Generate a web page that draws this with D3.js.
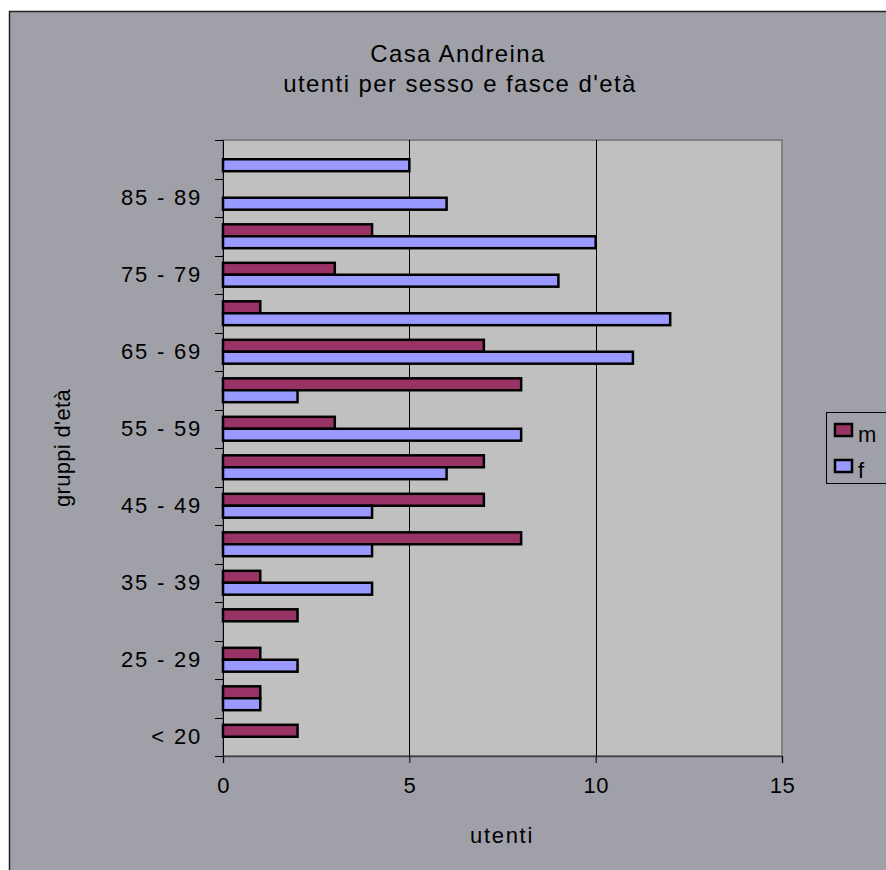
<!DOCTYPE html>
<html>
<head>
<meta charset="utf-8">
<script src="https://cdn.jsdelivr.net/npm/d3@7"></script>
<style>
    html, body { margin: 0; padding: 0; overflow: hidden; background: #fff; }
    svg { display: block; }
    svg text { font-family: "Liberation Sans", Arial, sans-serif; fill: #000; }
</style>
</head>
<body>
<svg id="chart" width="886" height="870"></svg>
<script>
    'use strict';

    // age groups, bottom to top
    var categories = ['< 20', '20 - 24', '25 - 29', '30 - 34', '35 - 39', '40 - 44',
        '45 - 49', '50 - 54', '55 - 59', '60 - 64', '65 - 69', '70 - 74',
        '75 - 79', '80 - 84', '85 - 89', '90 - 94'];
    var maschi = [2, 1, 1, 2, 1, 8, 7, 7, 3, 8, 7, 1, 3, 4, 0, 0];
    var femmine = [0, 1, 2, 0, 4, 4, 4, 6, 8, 2, 11, 12, 9, 10, 6, 5];
    var xTicks = [0, 5, 10, 15];
    var series = [
        {key: 'm', values: maschi, color: '#993366'},
        {key: 'f', values: femmine, color: '#9999ff'}
    ];

    var svg = d3.select('#chart');
    var plot = {left: 223, right: 782, top: 140, bottom: 756};
    var labelStyle = {size: '22px', spacing: '1.8px'};

    // chart frame (runs off the right and bottom edges)
    svg.append('rect')
        .attr('x', 9.5).attr('y', 11.5)
        .attr('width', 920).attr('height', 920)
        .attr('fill', '#a0a0a8')
        .attr('stroke', '#222').attr('stroke-width', 1.5);

    var x = d3.scaleLinear().domain([0, 15]).range([plot.left, plot.right]);
    var y = d3.scaleBand()
        .domain(categories.slice().reverse())
        .range([plot.top, plot.bottom])
        .paddingInner(0.38)
        .paddingOuter(0.19);
    var ySub = d3.scaleBand().domain(['m', 'f']).range([0, y.bandwidth()]);

    // plot area
    svg.append('rect')
        .attr('x', plot.left).attr('y', plot.top)
        .attr('width', plot.right - plot.left).attr('height', plot.bottom - plot.top)
        .attr('fill', '#c0c0c0')
        .attr('stroke', '#808080').attr('stroke-width', 2);

    // gridlines
    svg.append('g')
        .selectAll('line')
        .data(xTicks.slice(1, -1))
        .join('line')
        .attr('x1', d => Math.round(x(d)) + 0.5).attr('x2', d => Math.round(x(d)) + 0.5)
        .attr('y1', plot.top).attr('y2', plot.bottom)
        .attr('stroke', '#000');

    // bars
    series.forEach(s => {
        svg.append('g')
            .selectAll('rect')
            .data(categories.map((c, i) => ({cat: c, v: s.values[i]})).filter(d => d.v > 0))
            .join('rect')
            .attr('x', x(0))
            .attr('y', d => y(d.cat) + ySub(s.key))
            .attr('width', d => x(d.v) - x(0))
            .attr('height', ySub.bandwidth())
            .attr('fill', s.color)
            .attr('stroke', '#000')
            .attr('stroke-width', 2.5);
    });

    // x axis
    var xAxis = svg.append('g')
        .attr('transform', `translate(0, ${plot.bottom})`)
        .call(d3.axisBottom(x).tickValues(xTicks).tickSize(7).tickPadding(22));
    xAxis.select('.domain').attr('stroke', '#404040').attr('stroke-width', 1.5);
    xAxis.selectAll('.tick line').attr('stroke', '#000');
    xAxis.selectAll('text')
        .attr('dy', '0.35em')
        .style('font-size', labelStyle.size)
        .style('letter-spacing', '0.5px');

    // y axis: ticks between groups, label every second group
    var yAxis = svg.append('g')
        .attr('transform', `translate(${plot.left}, 0)`);
    var bounds = d3.range(categories.length + 1).map(i => plot.top + i * y.step());
    yAxis.append('line')
        .attr('x1', 0.5).attr('x2', 0.5)
        .attr('y1', plot.top).attr('y2', plot.bottom + 7)
        .attr('stroke', '#000');
    yAxis.selectAll('line.tick')
        .data(bounds)
        .join('line')
        .attr('class', 'tick')
        .attr('x1', -8).attr('x2', 0)
        .attr('y1', d => Math.round(d) + 0.5).attr('y2', d => Math.round(d) + 0.5)
        .attr('stroke', '#000');
    yAxis.selectAll('text')
        .data(categories.filter((c, i) => i % 2 === 0))
        .join('text')
        .attr('x', -21)
        .attr('y', d => y(d) + y.bandwidth() / 2)
        .attr('dy', '0.35em')
        .attr('text-anchor', 'end')
        .style('font-size', labelStyle.size)
        .style('letter-spacing', labelStyle.spacing)
        .text(d => d);

    // titles
    var title = svg.append('text')
        .attr('text-anchor', 'middle')
        .style('font-size', '24px').style('letter-spacing', '1.4px');
    title.append('tspan').attr('x', 458).attr('y', 62).text('Casa Andreina');
    title.append('tspan').attr('x', 460).attr('y', 92).text('utenti per sesso e fasce d\'età');

    svg.append('text')
        .attr('x', 502).attr('y', 843)
        .attr('text-anchor', 'middle')
        .style('font-size', labelStyle.size).style('letter-spacing', '1.7px')
        .text('utenti');

    svg.append('text')
        .attr('transform', 'translate(70, 448) rotate(-90)')
        .attr('text-anchor', 'middle')
        .style('font-size', labelStyle.size).style('letter-spacing', '0.3px')
        .text('gruppi d\'età');

    // legend
    var legend = svg.append('g').attr('transform', 'translate(826, 412)');
    legend.append('rect')
        .attr('x', 0.5).attr('y', 0.5)
        .attr('width', 80).attr('height', 71)
        .attr('fill', 'none')
        .attr('stroke', '#000');
    series.forEach((s, i) => {
        var row = legend.append('g').attr('transform', `translate(9, ${12 + i * 36})`);
        row.append('rect')
            .attr('width', 17).attr('height', 12)
            .attr('fill', s.color)
            .attr('stroke', '#000').attr('stroke-width', 2.5);
        row.append('text')
            .attr('x', 23).attr('y', 18)
            .style('font-size', labelStyle.size)
            .text(s.key);
    });
</script>
</body>
</html>
